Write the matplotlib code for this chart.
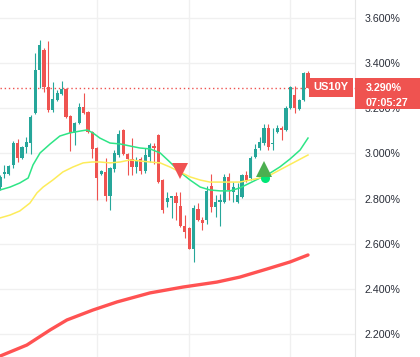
import numpy as np
import matplotlib
matplotlib.use('Agg')
import matplotlib.pyplot as plt
from matplotlib.patches import Rectangle

# candles: open, high, low, close (yield, %)
opens = [2.851, 2.909, 2.909, 2.949, 3.046, 2.980, 3.028, 3.046, 3.179, 3.370,
         3.458, 3.294, 3.192, 3.237, 3.263, 3.285, 3.166, 3.091, 3.135, 3.206,
         3.184, 3.095, 3.024, 2.909, 2.918, 2.811, 2.931, 2.993, 3.104, 2.997,
         2.975, 2.940, 2.975, 2.922, 2.984, 3.033, 3.082, 2.882, 2.785, 2.802,
         2.811, 2.767, 2.678, 2.670, 2.577, 2.754, 2.705, 2.705, 2.856, 2.763,
         2.785, 2.785, 2.896, 2.829, 2.785, 2.807, 2.904, 2.891, 2.984, 3.024,
         3.046, 3.113, 3.042, 3.095, 3.113, 3.104, 3.201, 3.259, 3.197, 3.237,
         3.356]
highs = [2.904, 2.949, 2.949, 3.055, 3.064, 3.033, 3.073, 3.170, 3.445, 3.503,
         3.467, 3.498, 3.316, 3.281, 3.321, 3.290, 3.170, 3.139, 3.223, 3.268,
         3.188, 3.099, 3.028, 2.927, 2.980, 2.940, 3.015, 3.104, 3.108, 3.002,
         3.068, 2.984, 2.984, 3.024, 3.046, 3.046, 3.086, 2.887, 2.829, 2.811,
         2.829, 2.829, 2.727, 2.674, 2.771, 2.780, 2.718, 2.856, 2.909, 2.816,
         2.820, 2.909, 2.913, 2.873, 2.869, 2.909, 2.922, 2.989, 3.042, 3.073,
         3.130, 3.130, 3.113, 3.126, 3.122, 3.210, 3.299, 3.299, 3.241, 3.361,
         3.365]
lows = [2.838, 2.891, 2.904, 2.935, 2.962, 2.975, 3.002, 2.997, 3.175, 3.290,
        3.272, 3.184, 3.184, 3.232, 3.259, 3.157, 3.011, 3.037, 3.130, 3.175,
        3.091, 2.980, 2.794, 2.904, 2.789, 2.749, 2.918, 2.984, 2.993, 2.904,
        2.904, 2.913, 2.909, 2.913, 2.962, 2.953, 2.869, 2.736, 2.763, 2.714,
        2.705, 2.674, 2.625, 2.577, 2.519, 2.701, 2.661, 2.687, 2.740, 2.718,
        2.678, 2.780, 2.794, 2.785, 2.780, 2.802, 2.873, 2.882, 2.980, 3.015,
        3.037, 3.015, 3.015, 3.091, 3.060, 3.099, 3.197, 3.179, 3.192, 3.232,
        3.290]
closes = [2.896, 2.918, 2.944, 3.046, 2.980, 3.028, 3.051, 3.161, 3.370, 3.480,
          3.294, 3.192, 3.241, 3.268, 3.285, 3.161, 3.091, 3.135, 3.206, 3.179,
          3.095, 3.020, 2.891, 2.922, 2.811, 2.935, 3.002, 3.086, 2.997, 2.975,
          2.940, 2.966, 2.922, 2.993, 3.037, 3.024, 2.873, 2.749, 2.802, 2.811,
          2.780, 2.678, 2.652, 2.577, 2.758, 2.705, 2.692, 2.834, 2.763, 2.785,
          2.794, 2.896, 2.838, 2.851, 2.816, 2.904, 2.882, 2.980, 3.020, 3.051,
          3.113, 3.028, 3.046, 3.113, 3.104, 3.201, 3.294, 3.201, 3.237, 3.356,
          3.290]

# moving averages (x in bar units)
fast_x = [0, 2.3, 4.5, 6.4, 7.5, 9.1, 11.4, 13.6, 15.9, 18.2, 19.8, 21.1, 22.7,
          25.0, 27.3, 29.5, 31.8, 34.1, 36.4, 38.6, 40.9, 43.2, 45.5, 47.7,
          50.0, 52.3, 54.5, 56.8, 59.1, 61.4, 63.6, 65.9, 68.2, 70.0]
fast_y = [2.838, 2.851, 2.869, 2.891, 2.949, 3.002, 3.042, 3.077, 3.091, 3.099,
          3.104, 3.091, 3.068, 3.046, 3.042, 3.033, 3.024, 3.020, 3.002, 2.962,
          2.918, 2.882, 2.851, 2.838, 2.834, 2.834, 2.847, 2.869, 2.891, 2.913,
          2.940, 2.975, 3.015, 3.068]

mid_x = [0, 2.3, 4.5, 6.8, 8.4, 9.8, 12.0, 14.3, 16.6, 18.9, 20.9, 22.7, 25.0,
         27.3, 29.5, 34.1, 36.4, 38.6, 40.9, 43.2, 45.5, 47.7, 50.0, 52.3,
         54.5, 56.8, 59.1, 61.4, 63.6, 66.6, 70.0]
mid_y = [2.714, 2.727, 2.745, 2.780, 2.825, 2.851, 2.882, 2.918, 2.940, 2.958,
         2.962, 2.962, 2.958, 2.962, 2.971, 2.962, 2.958, 2.940, 2.918, 2.896,
         2.882, 2.873, 2.873, 2.873, 2.873, 2.882, 2.891, 2.904, 2.927, 2.958,
         2.993]

slow_x = [0, 6.1, 11.4, 15.2, 21.1, 26.6, 34.1, 41.6, 49.3, 54.5, 60.7, 65.9, 70.0]
slow_y = [2.102, 2.151, 2.218, 2.262, 2.306, 2.342, 2.382, 2.408, 2.430, 2.452,
          2.488, 2.519, 2.550]

ticks = [2.2, 2.4, 2.6, 2.8, 3.0, 3.2, 3.4, 3.6]
tick_labels = ['2.200%', '2.400%', '2.600%', '2.800%', '3.000%', '3.200%', '3.400%', '3.600%']
last_price = 3.290
sell_signal = (41.0, 2.922)
buy_signal = (60.1, 2.931)
buy_dot = (60.2, 2.893)

up_col = '#26a69a'
down_col = '#ef5350'

plt.rcParams['font.family'] = ['Liberation Sans', 'DejaVu Sans']

fig = plt.figure(figsize=(4.2, 3.57), dpi=100)
ax = fig.add_axes([0, 0, 355 / 420, 1])

x = np.arange(len(opens))
o = np.array(opens)
c = np.array(closes)
cols = [up_col if cc >= oo else down_col for oo, cc in zip(o, c)]
ax.vlines(x, lows, highs, colors=cols, linewidth=0.8, zorder=3)
body = np.maximum(np.abs(c - o), 0.004)
ax.bar(x, body, 0.7, bottom=np.minimum(o, c), color=cols, zorder=3)

ax.plot(fast_x, fast_y, color='#2ee586', lw=1.1, zorder=4)
ax.plot(mid_x, mid_y, color='#fdec5a', lw=1.1, zorder=4)
ax.plot(slow_x, slow_y, color='#ff5252', lw=2.4, zorder=4, solid_capstyle='round')

ax.axhline(last_price, color=down_col, lw=1, linestyle=(0, (1, 2)), zorder=2)

ax.plot(*sell_signal, marker='v', ms=11, color='#f05252', mew=0, zorder=6)
ax.plot(*buy_dot, marker='o', ms=6.5, color='#00e676', mew=0, zorder=5)
ax.plot(*buy_signal, marker='^', ms=11, color='#4caf50', mew=0, zorder=6)

ax.set_xlim(0, 355 / 4.4)
ax.set_ylim(2.098, 3.6797)
ax.set_yticks(ticks)
ax.set_yticklabels(tick_labels)
ax.yaxis.tick_right()
ax.tick_params(axis='y', length=0, pad=7, labelsize=7.7, labelcolor='#2a2e39')
ax.set_xticks([22, 43, 66])
ax.tick_params(axis='x', length=0, labelbottom=False)
ax.grid(True, color='#f0f0f0', lw=1)
ax.set_axisbelow(True)
for s in ['top', 'left', 'bottom']:
    ax.spines[s].set_visible(False)
ax.spines['right'].set_color('#e6e6e6')

# price labels on the right
fig.add_artist(Rectangle((309 / 420, 1 - 97 / 357), 44 / 420, 19 / 357,
                         transform=fig.transFigure, color=down_col, lw=0))
fig.text(331 / 420, 1 - 87.5 / 357, 'US10Y', color='white', fontsize=8,
         fontweight='bold', ha='center', va='center')
fig.add_artist(Rectangle((355 / 420, 1 - 109 / 357), 65 / 420, 31 / 357,
                         transform=fig.transFigure, color=down_col, lw=0))
fig.text(366 / 420, 1 - 88 / 357, '3.290%', color='white', fontsize=7.7,
         fontweight='bold', ha='left', va='center')
fig.text(366 / 420, 1 - 102.5 / 357, '07:05:27', color='white', fontsize=7.7,
         fontweight='bold', ha='left', va='center')

fig.savefig('out.png', dpi=100)
